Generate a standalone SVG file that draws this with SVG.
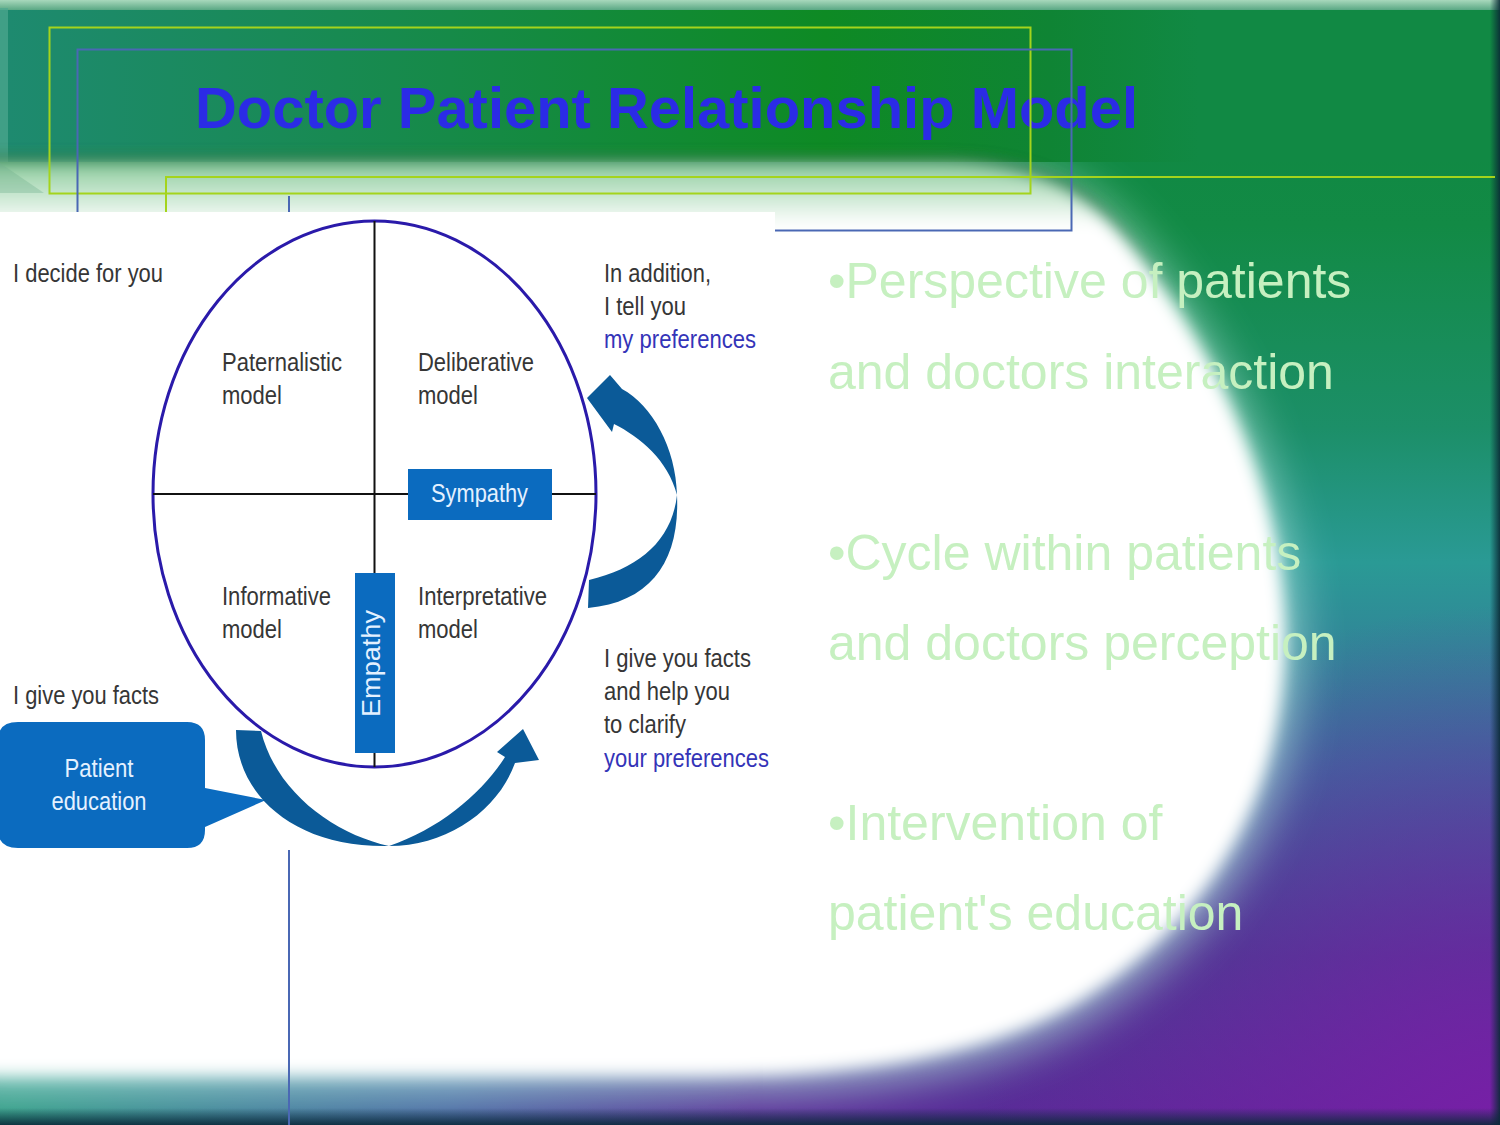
<svg xmlns="http://www.w3.org/2000/svg" width="1500" height="1125" viewBox="0 0 1500 1125">
<style>
.lbl{font-family:"Liberation Sans",Arial,sans-serif;font-size:25px;fill:#363636}
.blu{fill:#3434b8}
.wt{fill:#e4f1ff}
.bul{font-family:"Liberation Sans",Arial,sans-serif;font-size:50px;fill:#c6f0c0}
.ttl{font-family:"Liberation Sans",Arial,sans-serif;font-size:57px;font-weight:bold;fill:#2b2be6}
.yl{fill:none;stroke:#a4d41c;stroke-width:2}
.bl{fill:none;stroke:#4a68b4;stroke-width:2}
.box{fill:#0b6bbf}
.arr{fill:#0b5a98}
</style>
<defs>
<linearGradient id="bg" x1="0" y1="0" x2="0" y2="1125" gradientUnits="userSpaceOnUse">
<stop offset="0" stop-color="#0e8740"/>
<stop offset="0.2" stop-color="#128a45"/>
<stop offset="0.38" stop-color="#1c8f68"/>
<stop offset="0.5" stop-color="#2a9a95"/>
<stop offset="0.68" stop-color="#3a6a9c"/>
<stop offset="0.85" stop-color="#43408e"/>
<stop offset="1" stop-color="#5a2a98"/>
</linearGradient>
<radialGradient id="purp" cx="1500" cy="1125" r="520" gradientUnits="userSpaceOnUse">
<stop offset="0" stop-color="#7a1ea8" stop-opacity="0.9"/>
<stop offset="1" stop-color="#7a1ea8" stop-opacity="0"/>
</radialGradient>
<radialGradient id="teal" cx="0" cy="1125" r="750" gradientUnits="userSpaceOnUse">
<stop offset="0" stop-color="#2a9a80" stop-opacity="1"/>
<stop offset="0.6" stop-color="#3a8aa8" stop-opacity="0.6"/>
<stop offset="1" stop-color="#3a8aa8" stop-opacity="0"/>
</radialGradient>
<linearGradient id="band" x1="0" y1="0" x2="1500" y2="0" gradientUnits="userSpaceOnUse">
<stop offset="0" stop-color="#1e8a70"/>
<stop offset="0.3" stop-color="#168a48"/>
<stop offset="0.55" stop-color="#0e8a24"/>
<stop offset="0.7" stop-color="#0f8434"/>
<stop offset="0.8" stop-color="#118944"/>
<stop offset="1" stop-color="#118944"/>
</linearGradient>
<linearGradient id="topHi" x1="0" y1="0" x2="0" y2="10" gradientUnits="userSpaceOnUse">
<stop offset="0" stop-color="#a8d8bc"/>
<stop offset="1" stop-color="#5aa884"/>
</linearGradient>
<linearGradient id="blobFill" x1="0" y1="162" x2="0" y2="225" gradientUnits="userSpaceOnUse">
<stop offset="0" stop-color="#8ccc9c"/>
<stop offset="1" stop-color="#ffffff"/>
</linearGradient>
<linearGradient id="rEdge" x1="1490" y1="0" x2="1500" y2="0" gradientUnits="userSpaceOnUse">
<stop offset="0" stop-color="#0a2a36" stop-opacity="0"/>
<stop offset="1" stop-color="#0a2a36" stop-opacity="0.9"/>
</linearGradient>
<linearGradient id="bEdge" x1="0" y1="1108" x2="0" y2="1125" gradientUnits="userSpaceOnUse">
<stop offset="0" stop-color="#0a2a3a" stop-opacity="0"/>
<stop offset="1" stop-color="#0a2a3a" stop-opacity="0.9"/>
</linearGradient>
<linearGradient id="fadeTop" x1="0" y1="0" x2="0" y2="1125" gradientUnits="userSpaceOnUse">
<stop offset="0" stop-color="#fff"/>
<stop offset="0.16" stop-color="#fff"/>
<stop offset="0.27" stop-color="#000"/>
<stop offset="1" stop-color="#000"/>
</linearGradient>
<mask id="topMask" maskUnits="userSpaceOnUse" x="0" y="0" width="1500" height="1125">
<rect x="0" y="0" width="1500" height="1125" fill="url(#fadeTop)"/>
</mask>
<filter id="blur6" x="-10%" y="-10%" width="120%" height="120%"><feGaussianBlur stdDeviation="6"/></filter>
<filter id="blur8" x="-10%" y="-10%" width="120%" height="120%"><feGaussianBlur stdDeviation="8"/></filter>
<filter id="blur22" x="-20%" y="-20%" width="140%" height="140%"><feGaussianBlur stdDeviation="22"/></filter>
<path id="blobShape" d="M -30,162 L 940,162 C 1040,162 1090,195 1130,245 C 1215,350 1278,480 1284,620 C 1290,790 1210,920 1080,1000 C 980,1060 840,1076 700,1076 L -30,1076 Z"/>
</defs>

<g id="background">
<rect x="0" y="0" width="1500" height="1125" fill="url(#bg)"/>
<rect x="0" y="0" width="1500" height="1125" fill="url(#teal)"/>
<rect x="0" y="0" width="1500" height="1125" fill="url(#purp)"/>
<use href="#blobShape" fill="#b8e8e0" opacity="0.7" filter="url(#blur22)" transform="translate(-12,-4) scale(1.02)"/>
<rect x="0" y="8" width="1500" height="154" fill="url(#band)"/>
<rect x="0" y="0" width="1500" height="10" fill="url(#topHi)"/>
<rect x="0" y="8" width="8" height="154" fill="#4fa890" opacity="0.7"/>
<g mask="url(#topMask)">
<use href="#blobShape" fill="#064a1e" opacity="0.5" filter="url(#blur6)" transform="translate(4,-7)"/>
</g>
<use href="#blobShape" fill="url(#blobFill)" filter="url(#blur8)"/>
<polygon points="0,163 44,193 0,193" fill="#6fae8c" opacity="0.35"/>
<rect x="1490" y="0" width="10" height="1125" fill="url(#rEdge)"/>
<rect x="0" y="1108" width="1500" height="17" fill="url(#bEdge)"/>
</g>

<g id="title">
<text class="ttl" x="195" y="128" textLength="943" lengthAdjust="spacingAndGlyphs">Doctor Patient Relationship Model</text>
</g>

<g id="frame-lines">
<rect class="yl" x="49.5" y="27.5" width="981" height="166"/>
<rect class="bl" x="77.5" y="49.5" width="994" height="181"/>
<path class="yl" d="M166,212 V177 H1495"/>
<path class="bl" d="M289,196 V1125"/>
</g>

<rect id="diagram-panel" x="0" y="212" width="775" height="638" fill="#ffffff"/>

<g id="model-circle">
<ellipse cx="374.5" cy="494" rx="221.5" ry="273" fill="none" stroke="#2a1aaa" stroke-width="3"/>
<line x1="374.5" y1="221" x2="374.5" y2="767" stroke="#111" stroke-width="2"/>
<line x1="153" y1="494" x2="596" y2="494" stroke="#111" stroke-width="2"/>
</g>

<g id="paternalistic">
<text class="lbl" x="222" y="371" textLength="120" lengthAdjust="spacingAndGlyphs">Paternalistic</text>
<text class="lbl" x="222" y="404" textLength="60" lengthAdjust="spacingAndGlyphs">model</text>
</g>
<g id="deliberative">
<text class="lbl" x="418" y="371" textLength="116" lengthAdjust="spacingAndGlyphs">Deliberative</text>
<text class="lbl" x="418" y="404" textLength="60" lengthAdjust="spacingAndGlyphs">model</text>
</g>
<g id="informative">
<text class="lbl" x="222" y="605" textLength="109" lengthAdjust="spacingAndGlyphs">Informative</text>
<text class="lbl" x="222" y="638" textLength="60" lengthAdjust="spacingAndGlyphs">model</text>
</g>
<g id="interpretative">
<text class="lbl" x="418" y="605" textLength="129" lengthAdjust="spacingAndGlyphs">Interpretative</text>
<text class="lbl" x="418" y="638" textLength="60" lengthAdjust="spacingAndGlyphs">model</text>
</g>

<g id="sympathy">
<rect class="box" x="408" y="469" width="144" height="51"/>
<text class="lbl wt" x="479.5" y="502" text-anchor="middle" textLength="97" lengthAdjust="spacingAndGlyphs">Sympathy</text>
</g>
<g id="empathy">
<rect class="box" x="355" y="573" width="40" height="180"/>
<text class="lbl wt" transform="translate(380,663.5) rotate(-90)" x="0" y="0" text-anchor="middle" textLength="107" lengthAdjust="spacingAndGlyphs">Empathy</text>
</g>

<g id="label-decide">
<text class="lbl" x="13" y="282" textLength="150" lengthAdjust="spacingAndGlyphs">I decide for you</text>
</g>
<g id="label-addition">
<text class="lbl" x="604" y="282" textLength="107" lengthAdjust="spacingAndGlyphs">In addition,</text>
<text class="lbl" x="604" y="315" textLength="82" lengthAdjust="spacingAndGlyphs">I tell you</text>
<text class="lbl blu" x="604" y="348" textLength="152" lengthAdjust="spacingAndGlyphs">my preferences</text>
</g>
<g id="label-clarify">
<text class="lbl" x="604" y="667" textLength="147" lengthAdjust="spacingAndGlyphs">I give you facts</text>
<text class="lbl" x="604" y="700" textLength="126" lengthAdjust="spacingAndGlyphs">and help you</text>
<text class="lbl" x="604" y="733" textLength="82" lengthAdjust="spacingAndGlyphs">to clarify</text>
<text class="lbl blu" x="604" y="767" textLength="165" lengthAdjust="spacingAndGlyphs">your preferences</text>
</g>
<g id="label-facts">
<text class="lbl" x="13" y="704" textLength="146" lengthAdjust="spacingAndGlyphs">I give you facts</text>
</g>

<g id="patient-education">
<path class="box" d="M18,722 H187 Q205,722 205,740 V788 L266,800 L205,827 V830 Q205,848 187,848 H18 Q-2,848 -2,830 V740 Q-2,722 18,722 Z"/>
<text class="lbl wt" x="99" y="777" text-anchor="middle" textLength="69" lengthAdjust="spacingAndGlyphs">Patient</text>
<text class="lbl wt" x="99" y="810" text-anchor="middle" textLength="95" lengthAdjust="spacingAndGlyphs">education</text>
</g>

<g id="connectors">
<path class="arr" d="M588,608 C652,602 680,560 677,495 C676,448 652,405 622,389 L610,375 L587,398 L612,432 L614,424 C640,437 668,460 677,495 C672,540 640,568 589,580 Z"/>
<path class="arr" d="M236,730 C236,796 296,848 389,846 C448,846 498,810 515,763 L539,760 L523,729 L497,752 L505,757 C483,792 440,829 389,846 C334,834 276,792 261,731 Z"/>
</g>

<g id="bullets">
<text class="bul" x="828" y="298">•Perspective of patients</text>
<text class="bul" x="828" y="389">and doctors interaction</text>
<text class="bul" x="828" y="570">•Cycle within patients</text>
<text class="bul" x="828" y="660">and doctors perception</text>
<text class="bul" x="828" y="840">•Intervention of</text>
<text class="bul" x="828" y="930">patient's education</text>
</g>
</svg>
